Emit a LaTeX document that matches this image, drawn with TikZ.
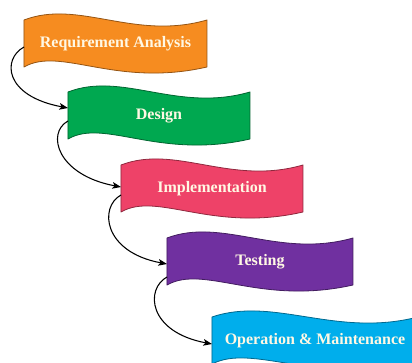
\documentclass[tikz,border=0pt]{standalone}
\usepackage{fontspec}
\setmainfont{Liberation Serif}
\usetikzlibrary{arrows.meta}

\definecolor{wOrange}{RGB}{246,140,32}
\definecolor{wGreen}{RGB}{0,168,80}
\definecolor{wRed}{RGB}{238,66,104}
\definecolor{wPurple}{RGB}{112,48,160}
\definecolor{wCyan}{RGB}{0,174,236}
\definecolor{wText}{RGB}{255,248,228}

\tikzset{
  banner/.style={line width=0.6pt, line join=round},
  bannertext/.style={text=wText, font=\bfseries\fontsize{12}{14}\selectfont, inner sep=0pt},
  flow/.style={line width=0.8pt, -{Stealth[length=6.5pt,width=5pt,inset=1.5pt]}},
}

% wave-shaped banner: #1 node name, #2 left x, #3 top y, #4 width, #5 colour, #6 label
\newcommand{\wavebanner}[6]{%
  \draw[banner, fill=#5, draw=#5!60!black]
    (#2,#3) .. controls +(0.3*#4,-21) and +(-0.4*#4,21) .. ++(#4,0)
    -- ++(0,47)
    .. controls +(-0.5*#4,21) and +(0.2*#4,-21) .. ++(-#4,0) -- cycle;
  \node[bannertext] (#1) at ({#2+#4/2},{#3+23.5}) {#6};
}

\begin{document}
\begin{tikzpicture}[x=0.75pt,y=-0.75pt]
  \useasboundingbox (0,0) rectangle (412,363);
  \fill[white] (0,0) rectangle (412,363);
  \clip (0,0) rectangle (412,363);

  \wavebanner{req}{24}{20}{183}{wOrange}{Requirement Analysis}
  \wavebanner{des}{68}{92}{182}{wGreen}{Design}
  \wavebanner{imp}{121}{165}{182}{wRed}{Implementation}
  \wavebanner{tst}{167}{238}{186}{wPurple}{Testing}
  \wavebanner{ops}{212}{317}{206}{wCyan}{Operation \& Maintenance}

  % attachment points on the left edges of the banners
  \coordinate (req-out) at (24,47);
  \coordinate (des-in)  at (68,108);
  \coordinate (des-out) at (68,121);
  \coordinate (imp-in)  at (121,187);
  \coordinate (imp-out) at (121,195);
  \coordinate (tst-in)  at (167,264);
  \coordinate (tst-out) at (167,277);
  \coordinate (ops-in)  at (212,344);

  \draw[flow] (req-out) .. controls +(-22,12) and +(-64,-12) .. (des-in);
  \draw[flow] (des-out) .. controls +(-22,12) and +(-64,-12) .. (imp-in);
  \draw[flow] (imp-out) .. controls +(-22,12) and +(-64,-12) .. (tst-in);
  \draw[flow] (tst-out) .. controls +(-22,12) and +(-64,-12) .. (ops-in);
\end{tikzpicture}
\end{document}
